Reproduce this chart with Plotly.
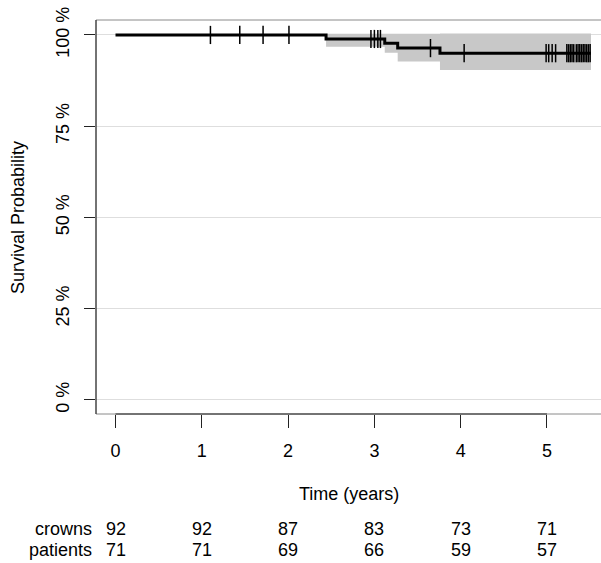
import plotly.graph_objects as go

# ---- data ----
step_times = [0, 2.44, 3.12, 3.27, 3.76]          # years at which survival drops
surv_pct = [100, 98.9, 97.7, 96.4, 95.0]          # KM survival (%)
ci_lower = [100, 96.8, 95.1, 92.7, 90.4]          # lower 95% CI (%)
ci_upper = [100, 100.3, 100.3, 100.3, 100.4]      # upper 95% CI (%)
end_time = 5.51

censor_times = [1.10, 1.44, 1.71, 2.01, 2.96, 3.00, 3.04, 3.07, 3.65, 4.04,
                4.99, 5.02, 5.06, 5.10, 5.23, 5.25, 5.27, 5.29, 5.31, 5.34,
                5.36, 5.38, 5.40, 5.42, 5.44, 5.46, 5.48, 5.50]

x_ticks = [0, 1, 2, 3, 4, 5]
y_ticks = [0, 25, 50, 75, 100]
y_ticktext = ["0 %", "25 %", "50 %", "75 %", "100 %"]

risk_rows = ["crowns", "patients"]
crowns_at_risk = [92, 92, 87, 83, 73, 71]
patients_at_risk = [71, 71, 69, 66, 59, 57]

FONT = "Liberation Sans, Arial, Helvetica, sans-serif"
FS = 18


def surv_at(t):
    val = surv_pct[0]
    for st, sv in zip(step_times, surv_pct):
        if t >= st:
            val = sv
    return val


fig = go.Figure()

# confidence band (starts at first drop)
bx = step_times[1:] + [end_time]
bl = ci_lower[1:] + [ci_lower[-1]]
bu = ci_upper[1:] + [ci_upper[-1]]
fig.add_trace(go.Scatter(x=bx, y=bl, mode="lines", line=dict(width=0, shape="hv"),
                         hoverinfo="skip", showlegend=False))
fig.add_trace(go.Scatter(x=bx, y=bu, mode="lines", line=dict(width=0, shape="hv"),
                         fill="tonexty", fillcolor="#c8c8c8",
                         hoverinfo="skip", showlegend=False))

# KM curve
fig.add_trace(go.Scatter(x=step_times + [end_time], y=surv_pct + [surv_pct[-1]],
                         mode="lines", line=dict(color="black", width=3, shape="hv"),
                         showlegend=False))

# censor marks
fig.add_trace(go.Scatter(x=censor_times, y=[surv_at(t) for t in censor_times],
                         mode="markers",
                         marker=dict(symbol="line-ns", size=13,
                                     line=dict(color="black", width=1.5)),
                         showlegend=False))

x_range = [-0.226, 5.626]
y_range = [-3.84, 104.1]

fig.update_layout(
    width=601, height=563,
    margin=dict(l=96, r=0, t=20, b=149, autoexpand=False),
    paper_bgcolor="white", plot_bgcolor="white",
    font=dict(family=FONT, size=FS, color="black"),
    xaxis=dict(range=x_range, tickvals=x_ticks, ticks="outside", ticklen=13,
               tickcolor="#222", tickwidth=1, showgrid=False, zeroline=False,
               showline=False, tickfont=dict(size=FS), ticklabelstandoff=7),
    yaxis=dict(range=y_range, tickvals=y_ticks, ticktext=y_ticktext, ticks="outside",
               ticklen=11, tickcolor="#222", tickwidth=1, showgrid=True,
               gridcolor="#dedede", gridwidth=1, zeroline=False, showline=False,
               tickangle=-90, tickfont=dict(size=FS), ticklabelstandoff=8),
)

# plot box (grey) and dark axis lines spanning the ticks
fig.add_shape(type="rect", xref="paper", yref="paper", x0=0, x1=1.02, y0=0, y1=1,
              line=dict(color="#8a8a8a", width=1), layer="above")
fig.add_shape(type="line", xref="x", yref="paper", x0=min(x_ticks), x1=max(x_ticks),
              y0=0, y1=0, line=dict(color="#222", width=1), layer="above")
fig.add_shape(type="line", xref="paper", yref="paper", x0=0, x1=0,
              y0=0, y1=1, line=dict(color="#222", width=1), layer="above")

# axis titles
fig.add_annotation(text="Time (years)", xref="paper", yref="paper", x=0.5, y=-0.203,
                   showarrow=False, font=dict(size=FS), yanchor="middle")
fig.add_annotation(text="Survival Probability", xref="paper", yref="paper",
                   x=-0.1545, y=0.5, textangle=-90, showarrow=False,
                   font=dict(size=FS), xanchor="center", yanchor="middle")

# numbers at risk table
row_y = [-0.2919, -0.345]
for name, vals, ry in zip(risk_rows, [crowns_at_risk, patients_at_risk], row_y):
    fig.add_annotation(text=name, xref="paper", yref="paper", x=-0.004, y=ry,
                       xanchor="right", yanchor="middle", showarrow=False,
                       font=dict(size=FS))
    for xt, v in zip(x_ticks, vals):
        fig.add_annotation(text=str(v), xref="x", yref="paper", x=xt, y=ry,
                           xanchor="center", yanchor="middle", showarrow=False,
                           font=dict(size=FS))

fig.write_html("out.html")
